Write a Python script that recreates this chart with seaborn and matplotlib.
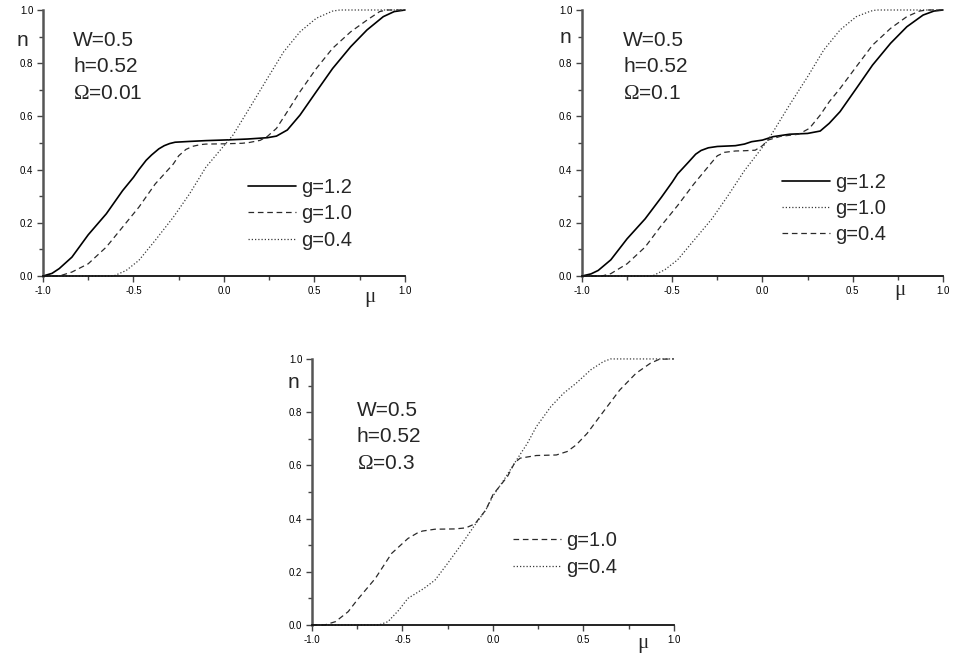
import matplotlib
matplotlib.use("Agg")
import matplotlib.pyplot as plt
import seaborn as sns
from matplotlib.ticker import MultipleLocator, FormatStrFormatter

# ---- panel 1 : W=0.5, h=0.52, Omega=0.01
p1_x_g12 = [-1.0, -0.95, -0.91, -0.84, -0.75, -0.65, -0.56, -0.5, -0.47, -0.43, -0.4, -0.36, -0.33,
            -0.3, -0.27, -0.19, -0.1, 0.03, 0.13, 0.24, 0.29, 0.35, 0.42, 0.51, 0.6, 0.7, 0.79, 0.88, 0.94, 1.0]
p1_y_g12 = [0.0, 0.01, 0.028, 0.071, 0.155, 0.234, 0.321, 0.371, 0.40, 0.435, 0.455, 0.478, 0.49,
            0.498, 0.503, 0.506, 0.509, 0.512, 0.515, 0.52, 0.526, 0.549, 0.605, 0.693, 0.78, 0.862,
            0.925, 0.975, 0.994, 1.0]
p1_x_g10 = [-1.0, -0.91, -0.84, -0.75, -0.65, -0.56, -0.47, -0.38, -0.28, -0.25, -0.21, -0.17, -0.13,
            -0.1, 0.0, 0.1, 0.14, 0.2, 0.24, 0.29, 0.35, 0.42, 0.51, 0.6, 0.7, 0.79, 0.86, 0.9, 1.0]
p1_y_g10 = [0.0, 0.0, 0.015, 0.046, 0.109, 0.184, 0.259, 0.346, 0.421, 0.452, 0.476, 0.488, 0.494,
            0.496, 0.497, 0.499, 0.502, 0.51, 0.525, 0.555, 0.618, 0.693, 0.78, 0.856, 0.918, 0.962,
            0.994, 1.0, 1.0]
p1_x_g04 = [-1.0, -0.61, -0.54, -0.47, -0.38, -0.28, -0.19, -0.1, 0.0, 0.05, 0.14, 0.24, 0.33,
            0.42, 0.51, 0.6, 0.64, 1.0]
p1_y_g04 = [0.0, 0.0, 0.021, 0.059, 0.134, 0.221, 0.309, 0.409, 0.49, 0.53, 0.63, 0.743, 0.843,
            0.918, 0.969, 0.996, 1.0, 1.0]

# ---- panel 2 : W=0.5, h=0.52, Omega=0.1
p2_x_g12 = [-1.0, -0.95, -0.91, -0.84, -0.75, -0.65, -0.56, -0.5, -0.47, -0.41, -0.37, -0.34, -0.3,
            -0.25, -0.15, -0.1, -0.06, 0.0, 0.06, 0.15, 0.25, 0.32, 0.37, 0.43, 0.52, 0.61, 0.71, 0.8,
            0.89, 0.95, 1.0]
p2_y_g12 = [0.0, 0.008, 0.021, 0.061, 0.14, 0.215, 0.296, 0.353, 0.384, 0.428, 0.458, 0.472, 0.482,
            0.487, 0.49, 0.496, 0.505, 0.511, 0.524, 0.533, 0.536, 0.545, 0.574, 0.618, 0.705, 0.793,
            0.875, 0.937, 0.981, 0.996, 1.0]
p2_x_g10 = [-1.0, -0.61, -0.54, -0.47, -0.38, -0.28, -0.19, -0.1, 0.0, 0.03, 0.06, 0.15, 0.25,
            0.34, 0.43, 0.52, 0.6, 0.63, 1.0]
p2_y_g10 = [0.0, 0.0, 0.024, 0.061, 0.134, 0.215, 0.303, 0.396, 0.484, 0.511, 0.543, 0.643, 0.749,
            0.85, 0.925, 0.975, 0.996, 1.0, 1.0]
p2_x_g04 = [-1.0, -0.89, -0.84, -0.75, -0.65, -0.56, -0.47, -0.38, -0.28, -0.25, -0.21, -0.15, -0.1,
            -0.04, 0.0, 0.03, 0.1, 0.2, 0.26, 0.32, 0.37, 0.43, 0.52, 0.61, 0.71, 0.8, 0.87, 0.91, 1.0]
p2_y_g04 = [0.0, 0.0, 0.009, 0.046, 0.109, 0.19, 0.265, 0.346, 0.428, 0.452, 0.465, 0.47, 0.471,
            0.473, 0.49, 0.511, 0.525, 0.533, 0.555, 0.605, 0.655, 0.705, 0.787, 0.868, 0.931, 0.975,
            0.996, 1.0, 1.0]

# ---- panel 3 : W=0.5, h=0.52, Omega=0.3
p3_x_g10 = [-1.0, -0.93, -0.87, -0.8, -0.75, -0.65, -0.56, -0.47, -0.42, -0.39, -0.32, -0.21, -0.15,
            -0.1, -0.04, 0.0, 0.08, 0.12, 0.15, 0.24, 0.35, 0.41, 0.46, 0.52, 0.61, 0.7, 0.79, 0.87,
            0.92, 1.0]
p3_y_g10 = [0.0, 0.0, 0.0125, 0.05, 0.094, 0.175, 0.269, 0.325, 0.345, 0.353, 0.36, 0.361, 0.365,
            0.38, 0.432, 0.49, 0.558, 0.61, 0.627, 0.637, 0.639, 0.652, 0.677, 0.72, 0.802, 0.883,
            0.946, 0.984, 0.999, 1.0]
p3_x_g04 = [-1.0, -0.63, -0.58, -0.52, -0.47, -0.38, -0.32, -0.25, -0.17, -0.1, -0.04, 0.0, 0.06,
            0.13, 0.19, 0.24, 0.32, 0.39, 0.46, 0.54, 0.61, 0.65, 1.0]
p3_y_g04 = [0.0, 0.0, 0.0125, 0.056, 0.1, 0.138, 0.169, 0.232, 0.307, 0.376, 0.432, 0.485, 0.545,
            0.62, 0.683, 0.746, 0.821, 0.871, 0.909, 0.959, 0.99, 1.0, 1.0]

params1 = ["W=0.5", "h=0.52", r"$\Omega$=0.01"]
params2 = ["W=0.5", "h=0.52", r"$\Omega$=0.1"]
params3 = ["W=0.5", "h=0.52", r"$\Omega$=0.3"]

SOLID = dict(color="black", linewidth=1.2, linestyle="-")
DASHED = dict(color="#2a2a2a", linewidth=0.9, linestyle=(0, (4.5, 3.0)))
DOTTED = dict(color="#3a3a3a", linewidth=0.9, linestyle=(0, (1.0, 1.6)))

sns.set_style("ticks")
plt.rcParams["font.family"] = ["Liberation Sans", "DejaVu Sans"]
plt.rcParams["axes.unicode_minus"] = False
plt.rcParams["mathtext.fontset"] = "custom"
plt.rcParams["mathtext.rm"] = "Liberation Serif"
plt.rcParams["mathtext.it"] = "Liberation Serif:italic"

fig = plt.figure(figsize=(9.74, 6.58), dpi=100)
ax1 = fig.add_axes([0.0441, 0.5805, 0.3717, 0.4043])
ax2 = fig.add_axes([0.5975, 0.5805, 0.3706, 0.4043])
ax3 = fig.add_axes([0.3203, 0.0502, 0.3717, 0.4043])


def draw(ax, series, params, txt_xy, leg_xy, n_xy, mu_xy):
    handles = []
    labels = []
    for xs, ys, st, lab in series:
        sns.lineplot(x=xs, y=ys, ax=ax, clip_on=False, **st)
        handles.append(ax.get_lines()[-1])
        labels.append(lab)
    ax.set_xlim(-1, 1)
    ax.set_ylim(0, 1)
    ax.set_xlabel("")
    ax.set_ylabel("")
    ax.xaxis.set_major_locator(MultipleLocator(0.5))
    ax.xaxis.set_minor_locator(MultipleLocator(0.25))
    ax.yaxis.set_major_locator(MultipleLocator(0.2))
    ax.yaxis.set_minor_locator(MultipleLocator(0.1))
    ax.xaxis.set_major_formatter(FormatStrFormatter("%.1f"))
    ax.yaxis.set_major_formatter(FormatStrFormatter("%.1f"))
    ax.tick_params(which="major", direction="out", length=4, width=1, labelsize=7, pad=3,
                   colors="#444444", labelcolor="black")
    ax.tick_params(which="minor", direction="out", length=3, width=1, colors="#444444")
    sns.despine(ax=ax)
    ax.spines["left"].set_color("#555555")
    ax.spines["left"].set_linewidth(1.8)
    ax.spines["bottom"].set_color("#111111")
    ax.spines["bottom"].set_linewidth(1.3)
    tx, ty, dy = txt_xy
    for i, t in enumerate(params):
        ax.text(tx, ty - i * dy, t, transform=ax.transAxes, fontsize=15, va="center", ha="left")
    ax.legend(handles, labels, loc="upper left", bbox_to_anchor=leg_xy, frameon=False,
              fontsize=14.5, handlelength=2.4, handletextpad=0.25, labelspacing=0.36,
              borderpad=0, borderaxespad=0)
    ax.text(n_xy[0], n_xy[1], "n", transform=ax.transAxes, fontsize=15, va="center", ha="center")
    ax.text(mu_xy[0], mu_xy[1], "\u03bc", transform=ax.transAxes, fontsize=15,
            family="Liberation Serif", va="center", ha="center")


draw(ax1,
     [(p1_x_g12, p1_y_g12, SOLID, "g=1.2"),
      (p1_x_g10, p1_y_g10, DASHED, "g=1.0"),
      (p1_x_g04, p1_y_g04, DOTTED, "g=0.4")],
     params1, (0.083, 0.887, 0.101), (0.566, 0.368), (-0.058, 0.887), (0.903, -0.079))

draw(ax2,
     [(p2_x_g12, p2_y_g12, SOLID, "g=1.2"),
      (p2_x_g10, p2_y_g10, DOTTED, "g=1.0"),
      (p2_x_g04, p2_y_g04, DASHED, "g=0.4")],
     params2, (0.114, 0.887, 0.101), (0.554, 0.388), (-0.047, 0.898), (0.881, -0.056))

draw(ax3,
     [(p3_x_g10, p3_y_g10, DASHED, "g=1.0"),
      (p3_x_g04, p3_y_g04, DOTTED, "g=0.4")],
     params3, (0.124, 0.808, 0.101), (0.555, 0.352), (-0.052, 0.91), (0.914, -0.068))

fig.savefig("out.png", dpi=100)
